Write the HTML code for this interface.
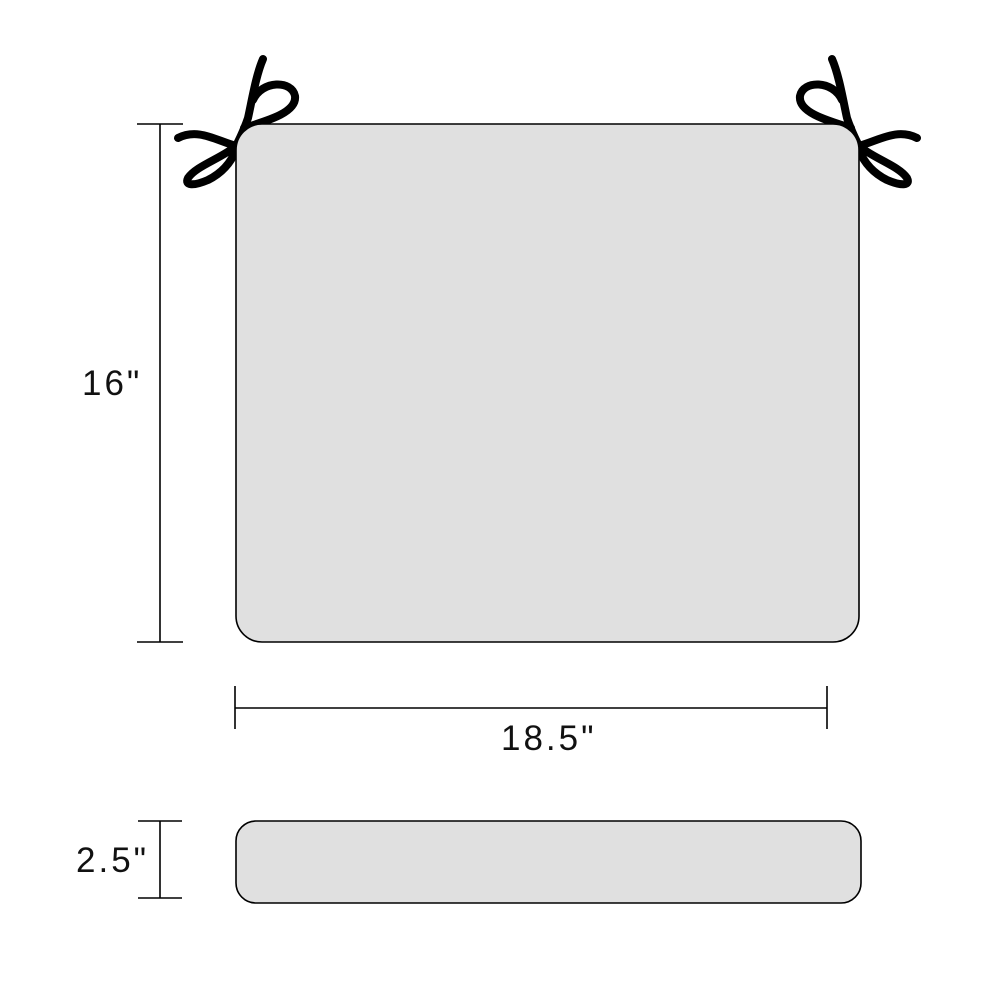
<!DOCTYPE html>
<html><head><meta charset="utf-8"><style>
html,body{margin:0;padding:0;background:#fff;}
svg{display:block;}
text{font-family:"Liberation Sans",sans-serif;font-size:35px;fill:#111;letter-spacing:3px;}
</style></head><body>
<svg width="1000" height="1000" viewBox="0 0 1000 1000">
  <g fill="none" stroke="#000" stroke-width="8" stroke-linecap="round">
    <path d="M263,59 C256,75 252,100 248,118 C244,130 240,138 236,146"/>
    <path d="M253,100 C262,80 292,80 295,96 C297,112 270,120 244,128"/>
    <path d="M236,146 C215,140 198,128 178,138"/>
    <path d="M236,146 C222,158 196,166 188,178 C184,186 194,186 208,180 C224,172 232,160 236,150"/>
  </g>
  <g transform="translate(1095,0) scale(-1,1)" fill="none" stroke="#000" stroke-width="8" stroke-linecap="round">
    <path d="M263,59 C256,75 252,100 248,118 C244,130 240,138 236,146"/>
    <path d="M253,100 C262,80 292,80 295,96 C297,112 270,120 244,128"/>
    <path d="M236,146 C215,140 198,128 178,138"/>
    <path d="M236,146 C222,158 196,166 188,178 C184,186 194,186 208,180 C224,172 232,160 236,150"/>
  </g>
  <rect x="236" y="124" width="623" height="518" rx="26" fill="#e0e0e0" stroke="#000" stroke-width="1.6"/>
  <g stroke="#000" stroke-width="1.6">
    <line x1="160" y1="124" x2="160" y2="642"/>
    <line x1="137" y1="124" x2="183" y2="124"/>
    <line x1="137" y1="642" x2="183" y2="642"/>
  </g>
  <text x="82" y="395">16"</text>
  <g stroke="#000" stroke-width="1.6">
    <line x1="235" y1="708" x2="827" y2="708"/>
    <line x1="235" y1="686" x2="235" y2="729"/>
    <line x1="827" y1="686" x2="827" y2="729"/>
  </g>
  <text x="501" y="750">18.5"</text>
  <rect x="236" y="821" width="625" height="82" rx="20" fill="#e0e0e0" stroke="#000" stroke-width="1.6"/>
  <g stroke="#000" stroke-width="1.6">
    <line x1="160" y1="821" x2="160" y2="898"/>
    <line x1="138" y1="821" x2="182" y2="821"/>
    <line x1="138" y1="898" x2="182" y2="898"/>
  </g>
  <text x="76" y="872">2.5"</text>
</svg>
</body></html>
